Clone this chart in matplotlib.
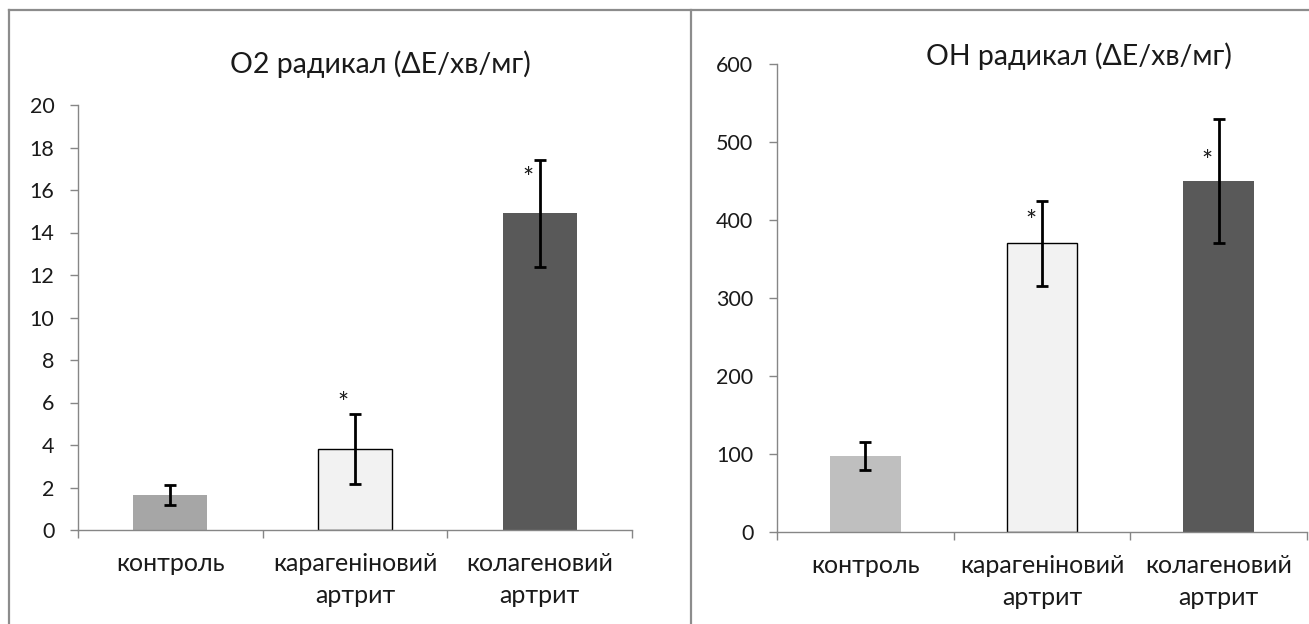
import matplotlib
matplotlib.use("Agg")
import matplotlib.pyplot as plt
from matplotlib.lines import Line2D
import numpy as np

plt.rcParams['font.family'] = ['Lato', 'DejaVu Sans']

categories = ["контроль", "карагеніновий\nартрит", "колагеновий\nартрит"]

o2_title = "O2 радикал (ΔE/хв/мг)"
o2_values = [1.65, 3.8, 14.9]
o2_errors = [0.45, 1.65, 2.5]
o2_colors = ["#A6A6A6", "#F2F2F2", "#595959"]
o2_star_y = [None, 5.9, 16.5]
o2_ticks = [0, 2, 4, 6, 8, 10, 12, 14, 16, 18, 20]

oh_title = "OH радикал (ΔE/хв/мг)"
oh_values = [98, 370, 450]
oh_errors = [18, 54, 80]
oh_colors = ["#BFBFBF", "#F2F2F2", "#595959"]
oh_star_y = [None, 397, 474]
oh_ticks = [0, 100, 200, 300, 400, 500, 600]

W, H = 1309, 624
fig = plt.figure(figsize=(W / 100, H / 100), dpi=100)

AX_GRAY = "#868686"
FRAME_GRAY = "#8C8C8C"


def px_rect(x0, x1, y_top, y_bot):
    return [x0 / W, (H - y_bot) / H, (x1 - x0) / W, (y_bot - y_top) / H]


def draw(ax, values, errors, colors, star_y, ticks, title, title_xy):
    x = np.arange(len(values))
    edges = ["black" if c == "#F2F2F2" else "none" for c in colors]
    ax.bar(x, values, width=0.4, color=colors, edgecolor=edges, linewidth=1.0, zorder=2)
    ax.errorbar(x, values, yerr=errors, fmt="none", ecolor="black",
                elinewidth=2, capsize=4.5, capthick=2, zorder=3)
    for xi, sy in zip(x, star_y):
        if sy is not None:
            ax.text(xi - 0.065, sy, "*", ha="center", va="center", fontsize=19, color="#1a1a1a")
    ax.set_xlim(-0.5, len(values) - 0.5)
    ax.set_ylim(ticks[0], ticks[-1])
    ax.set_yticks(ticks)
    ax.set_xticks(x)
    ax.set_xticklabels(categories, fontsize=18, linespacing=1.45, color="#1a1a1a")
    ax.set_xticks(np.arange(len(values) + 1) - 0.5, minor=True)
    ax.tick_params(axis="x", which="major", length=0, pad=16)
    ax.tick_params(axis="x", which="minor", length=6, width=1, color=AX_GRAY, direction="out")
    ax.tick_params(axis="y", which="major", length=6, width=1, color=AX_GRAY,
                   labelsize=15.5, pad=11, labelcolor="#1a1a1a")
    for s in ["top", "right"]:
        ax.spines[s].set_visible(False)
    for s in ["left", "bottom"]:
        ax.spines[s].set_color(AX_GRAY)
        ax.spines[s].set_linewidth(1.0)
    ax.set_facecolor("none")
    fig.text(title_xy[0] / W, 1 - title_xy[1] / H, title, ha="center", va="center",
             fontsize=20.5, color="#1a1a1a")


ax1 = fig.add_axes(px_rect(78, 632, 105, 530))
draw(ax1, o2_values, o2_errors, o2_colors, o2_star_y, o2_ticks, o2_title, (380, 64))

ax2 = fig.add_axes(px_rect(777, 1307, 64, 532))
draw(ax2, oh_values, oh_errors, oh_colors, oh_star_y, oh_ticks, oh_title, (1079, 56))

# panel frames
lw = 1.6
fig.add_artist(Line2D([9 / W, 9 / W], [0, 1 - 10 / H], color=FRAME_GRAY, lw=lw))
fig.add_artist(Line2D([9 / W, 1], [1 - 10 / H, 1 - 10 / H], color=FRAME_GRAY, lw=lw))
fig.add_artist(Line2D([691 / W, 691 / W], [0, 1 - 10 / H], color=FRAME_GRAY, lw=lw))

fig.savefig("out.png", dpi=100)
